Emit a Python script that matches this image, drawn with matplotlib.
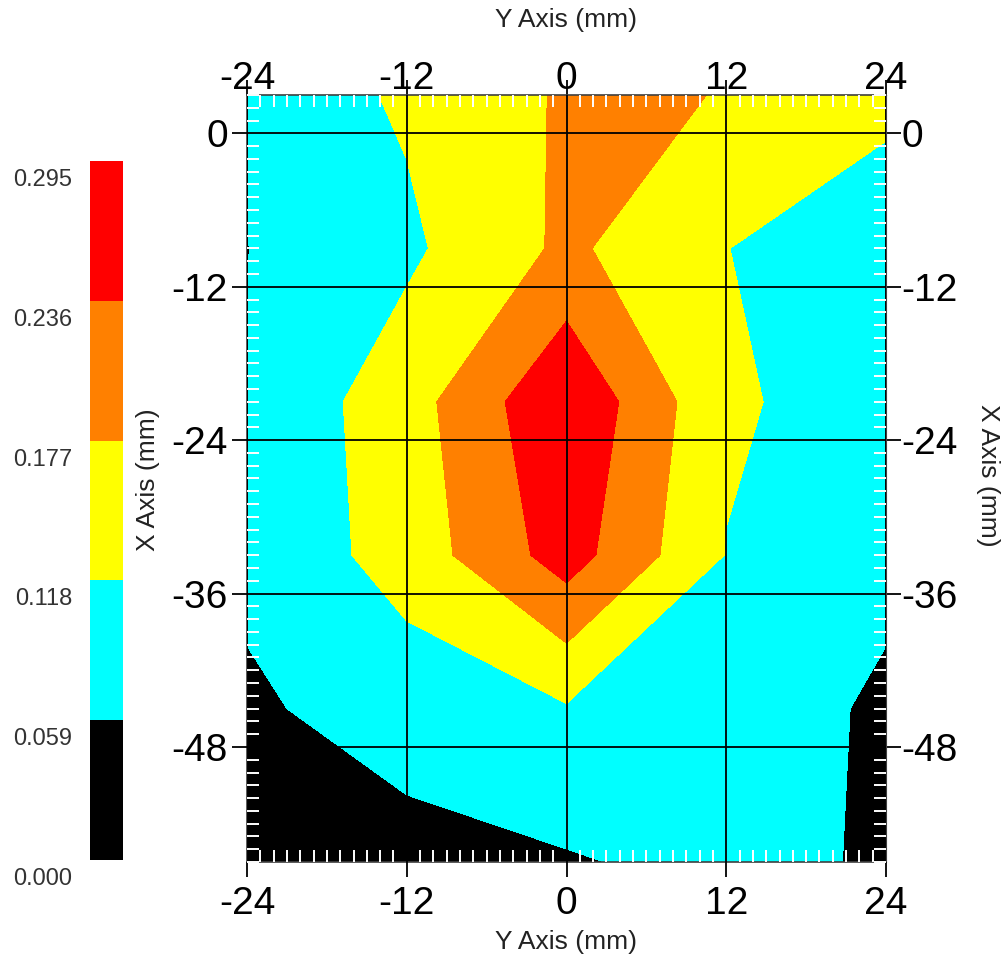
import numpy as np
import matplotlib
matplotlib.use('Agg')
import matplotlib.pyplot as plt
import matplotlib.transforms as mtransforms
from matplotlib.ticker import MultipleLocator, NullLocator

plt.rcParams['font.family'] = ['Liberation Sans', 'DejaVu Sans']
plt.rcParams['axes.unicode_minus'] = False

# ---- data (grid nodes) ----
y_axis_mm = [-24, -12, 0, 12, 24]            # horizontal axis ("Y Axis (mm)")
x_axis_mm = [3, -9, -21, -33, -45, -57]      # vertical axis ("X Axis (mm)")
row_p3 = [0.080, 0.126, 0.184, 0.176, 0.136]
row_m9 = [0.058, 0.107, 0.188, 0.119, 0.076]
row_m21 = [0.068, 0.151, 0.289, 0.127, 0.088]
row_m33 = [0.072, 0.142, 0.263, 0.116, 0.075]
row_m45 = [0.050, 0.086, 0.113, 0.097, 0.048]
row_m57 = [0.030, 0.038, 0.054, 0.075, 0.053]

levels = [0.000, 0.059, 0.118, 0.177, 0.236, 0.295]
level_labels = ['0.000', '0.059', '0.118', '0.177', '0.236', '0.295']
band_colors = ['#000000', '#00FFFF', '#FFFF00', '#FF8000', '#FF0000']
h_ticks = [-24, -12, 0, 12, 24]
v_ticks = [0, -12, -24, -36, -48]

Z = np.array([row_p3, row_m9, row_m21, row_m33, row_m45, row_m57])
X, Y = np.meshgrid(y_axis_mm, x_axis_mm)

W, H = 1005, 963
fig = plt.figure(figsize=(W / 100, H / 100), dpi=100)
L, R, T, B = 247, 886, 95, 862
ax = fig.add_axes([L / W, 1 - B / H, (R - L) / W, (B - T) / H])

cs = ax.contourf(X, Y, Z, levels=levels, colors=band_colors, zorder=1)
ax.set_xlim(-24, 24)
ax.set_ylim(-57, 3)
ax.set_axisbelow(False)

ax.set_xticks(h_ticks)
ax.set_yticks(v_ticks)
ax.xaxis.set_minor_locator(MultipleLocator(1))
ax.yaxis.set_minor_locator(MultipleLocator(1))
ax.grid(True, which='major', color='black', lw=1.3)

ax.tick_params(which='major', direction='out', length=10.8, width=1.3, color='black',
               labelsize=28, top=False, right=False)
ax.tick_params(axis='x', which='major', pad=6.5)
ax.tick_params(axis='y', which='major', pad=3)
ax.tick_params(which='minor', direction='in', length=8.5, width=1.4, color='white',
               top=True, right=True, bottom=True, left=True)
for sp in ax.spines.values():
    sp.set_color('#404040')
    sp.set_linewidth(1.2)

secx = ax.secondary_xaxis('top')
secx.set_xticks(h_ticks)
secx.xaxis.set_minor_locator(NullLocator())
secx.tick_params(which='major', direction='out', length=10.8, width=1.3, color='black',
                 labelsize=28, pad=-12)
secx.spines['top'].set_color('#404040')

secy = ax.secondary_yaxis('right')
secy.set_yticks(v_ticks)
secy.yaxis.set_minor_locator(NullLocator())
secy.tick_params(which='major', direction='out', length=10.8, width=1.3, color='black',
                 labelsize=28, pad=0.5)
secy.spines['right'].set_color('#404040')

# axis titles
fig.text(566 / W, 1 - 20 / H, 'Y Axis (mm)', ha='center', va='center', fontsize=19, color='#222222')
fig.text(566 / W, 1 - 942 / H, 'Y Axis (mm)', ha='center', va='center', fontsize=19, color='#222222')
fig.text(148 / W, 1 - 480 / H, 'X Axis (mm)', ha='center', va='center', rotation=90,
         fontsize=19, color='#222222')
fig.text(988 / W, 1 - 475 / H, 'X Axis (mm)', ha='center', va='center', rotation=-90,
         fontsize=19, color='#222222')

# colour legend bar
cL, cR, cT, cB = 90, 123, 161, 860
cax = fig.add_axes([cL / W, 1 - cB / H, (cR - cL) / W, (cB - cT) / H])
cb = fig.colorbar(cs, cax=cax, ticks=[])
cb.outline.set_visible(False)
cax.tick_params(length=0)
trans = mtransforms.offset_copy(cax.get_yaxis_transform(), fig=fig, x=-18, y=-19, units='dots')
for lv, lab in zip(levels, level_labels):
    cax.text(0, lv, lab, transform=trans, ha='right', va='center', fontsize=17, color='#333333')

fig.savefig('out.png', dpi=100)
